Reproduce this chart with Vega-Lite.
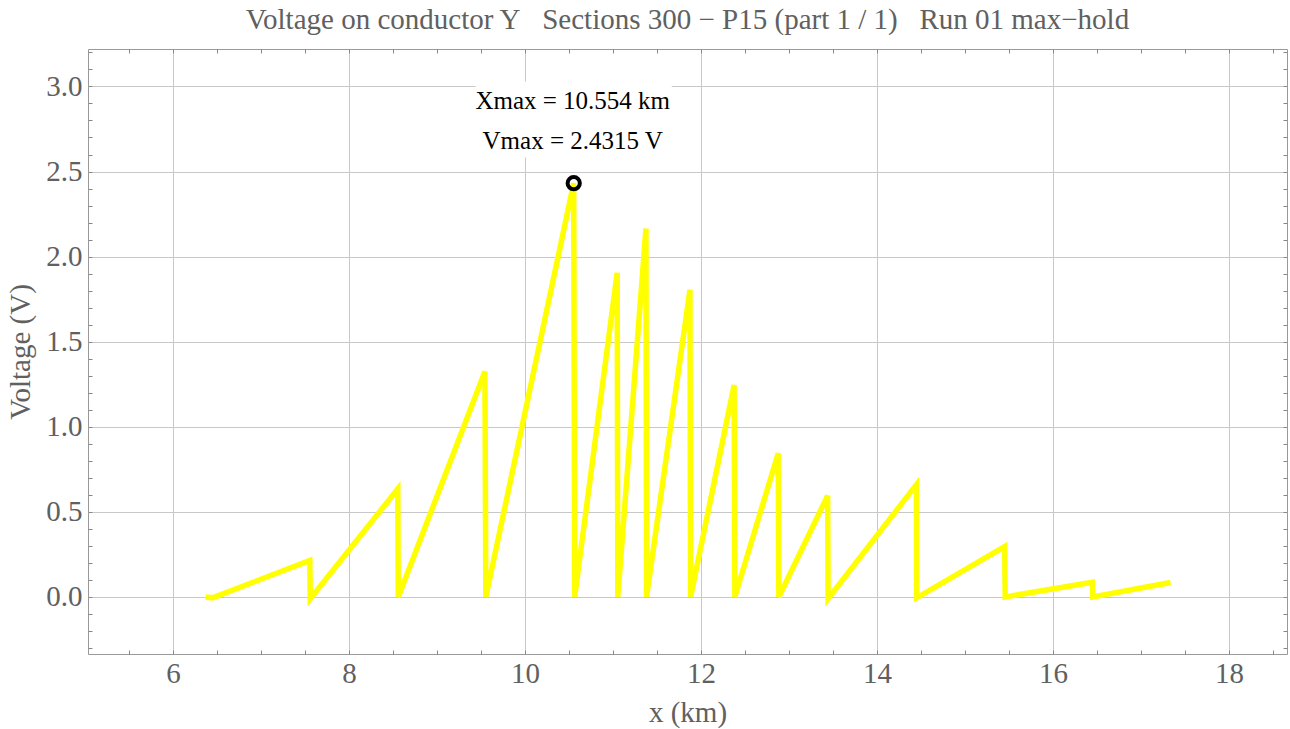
{
  "$schema": "https://vega.github.io/schema/vega-lite/v6.json",
  "width": 1199,
  "height": 605,
  "autosize": "none",
  "padding": {"left": 88, "top": 49, "right": 3, "bottom": 75},
  "background": "white",
  "title": {
    "text": "Voltage on conductor Y\u00a0\u00a0\u00a0Sections 300 − P15 (part 1 / 1)\u00a0\u00a0\u00a0Run 01 max−hold",
    "font": "Liberation Serif",
    "fontSize": 29,
    "fontWeight": "normal",
    "color": "#606060",
    "anchor": "middle",
    "offset": 3
  },
  "config": {
    "view": {"stroke": "#999999", "strokeWidth": 1},
    "axis": {
      "labelFont": "Liberation Serif",
      "labelFontSize": 29,
      "labelColor": "#606060",
      "titleFont": "Liberation Serif",
      "titleFontSize": 29,
      "titleFontWeight": "normal",
      "titleColor": "#606060",
      "tickColor": "#888888",
      "tickWidth": 1,
      "gridColor": "#c8c8c8",
      "gridWidth": 1,
      "domain": false
    }
  },
  "datasets": {
    "curve": [
      {"i": 0, "x": 6.37, "v": 0.0},
      {"i": 1, "x": 6.45, "v": -0.005},
      {"i": 2, "x": 7.555, "v": 0.215},
      {"i": 3, "x": 7.56, "v": -0.01},
      {"i": 4, "x": 8.555, "v": 0.635},
      {"i": 5, "x": 8.56, "v": 0.0},
      {"i": 6, "x": 9.545, "v": 1.325},
      {"i": 7, "x": 9.555, "v": 0.0},
      {"i": 8, "x": 10.554, "v": 2.4315},
      {"i": 9, "x": 10.565, "v": 0.0},
      {"i": 10, "x": 11.048, "v": 1.905},
      {"i": 11, "x": 11.055, "v": 0.0},
      {"i": 12, "x": 11.375, "v": 2.165},
      {"i": 13, "x": 11.382, "v": 0.0},
      {"i": 14, "x": 11.875, "v": 1.805},
      {"i": 15, "x": 11.882, "v": 0.0},
      {"i": 16, "x": 12.377, "v": 1.245},
      {"i": 17, "x": 12.385, "v": 0.0},
      {"i": 18, "x": 12.878, "v": 0.845},
      {"i": 19, "x": 12.885, "v": 0.0},
      {"i": 20, "x": 13.44, "v": 0.595},
      {"i": 21, "x": 13.445, "v": -0.01},
      {"i": 22, "x": 14.448, "v": 0.66},
      {"i": 23, "x": 14.452, "v": -0.005},
      {"i": 24, "x": 15.452, "v": 0.296},
      {"i": 25, "x": 15.457, "v": 0.0},
      {"i": 26, "x": 16.448, "v": 0.087},
      {"i": 27, "x": 16.453, "v": 0.0},
      {"i": 28, "x": 17.337, "v": 0.085}
    ],
    "peak": [
      {"x": 10.554, "v": 2.4315, "l1": "Xmax = 10.554 km", "l2": "Vmax = 2.4315 V"}
    ]
  },
  "layer": [
    {
      "data": {"name": "curve"},
      "mark": {"type": "line", "color": "#ffff00", "strokeWidth": 5.5, "strokeCap": "butt", "strokeJoin": "miter"},
      "encoding": {
        "x": {
          "field": "x", "type": "quantitative",
          "scale": {"domain": [5.034, 18.66], "nice": false, "zero": false},
          "axis": {
            "orient": "bottom",
            "title": "x (km)",
            "values": [5.5, 6, 6.5, 7, 7.5, 8, 8.5, 9, 9.5, 10, 10.5, 11, 11.5, 12, 12.5, 13, 13.5, 14, 14.5, 15, 15.5, 16, 16.5, 17, 17.5, 18, 18.5],
            "labelExpr": "abs(datum.value - 2*round(datum.value/2)) < 0.001 ? format(datum.value, 'd') : ''",
            "labelOverlap": false,
            "labelFlush": false,
            "tickSize": -4,
            "labelPadding": 9,
            "titlePadding": 10,
            "grid": true,
            "gridOpacity": {"condition": {"test": "abs(datum.value - 2*round(datum.value/2)) < 0.001", "value": 1}, "value": 0}
          }
        },
        "y": {
          "field": "v", "type": "quantitative",
          "scale": {"domain": [-0.335, 3.22], "nice": false, "zero": false},
          "axis": {
            "orient": "left",
            "title": "Voltage (V)",
            "values": [-0.3, -0.2, -0.1, 0, 0.1, 0.2, 0.3, 0.4, 0.5, 0.6, 0.7, 0.8, 0.9, 1, 1.1, 1.2, 1.3, 1.4, 1.5, 1.6, 1.7, 1.8, 1.9, 2, 2.1, 2.2, 2.3, 2.4, 2.5, 2.6, 2.7, 2.8, 2.9, 3, 3.1, 3.2],
            "labelExpr": "abs(datum.value*2 - round(datum.value*2)) < 0.001 ? format(datum.value, '.1f') : ''",
            "labelOverlap": false,
            "labelFlush": false,
            "tickSize": -4,
            "labelPadding": 10,
            "titlePadding": 10,
            "grid": true,
            "gridOpacity": {"condition": {"test": "abs(datum.value*2 - round(datum.value*2)) < 0.001", "value": 1}, "value": 0}
          }
        },
        "order": {"field": "i", "type": "quantitative"}
      }
    },
    {
      "data": {"name": "peak"},
      "mark": {"type": "point", "shape": "M-1,-1.037L1,-1.037L1,-0.261L-1,-0.261Z", "filled": true, "fill": "white", "strokeWidth": 0, "size": 38416, "opacity": 1},
      "encoding": {
        "x": {
          "field": "x", "type": "quantitative",
          "scale": {"domain": [5.034, 18.66], "nice": false, "zero": false},
          "axis": {
            "orient": "top",
            "title": null,
            "labels": false,
            "values": [5.5, 6, 6.5, 7, 7.5, 8, 8.5, 9, 9.5, 10, 10.5, 11, 11.5, 12, 12.5, 13, 13.5, 14, 14.5, 15, 15.5, 16, 16.5, 17, 17.5, 18, 18.5],
            "tickSize": -4,
            "grid": false
          }
        },
        "y": {
          "field": "v", "type": "quantitative",
          "scale": {"domain": [-0.335, 3.22], "nice": false, "zero": false},
          "axis": {
            "orient": "right",
            "title": null,
            "labels": false,
            "values": [-0.3, -0.2, -0.1, 0, 0.1, 0.2, 0.3, 0.4, 0.5, 0.6, 0.7, 0.8, 0.9, 1, 1.1, 1.2, 1.3, 1.4, 1.5, 1.6, 1.7, 1.8, 1.9, 2, 2.1, 2.2, 2.3, 2.4, 2.5, 2.6, 2.7, 2.8, 2.9, 3, 3.1, 3.2],
            "tickSize": -4,
            "grid": false
          }
        }
      }
    },
    {
      "data": {"name": "peak"},
      "mark": {"type": "point", "shape": "circle", "filled": false, "stroke": "black", "strokeWidth": 4, "size": 150, "opacity": 1},
      "encoding": {
        "x": {"field": "x", "type": "quantitative", "axis": null},
        "y": {"field": "v", "type": "quantitative", "axis": null}
      }
    },
    {
      "data": {"name": "peak"},
      "mark": {"type": "text", "font": "Liberation Serif", "fontSize": 25, "color": "black", "align": "center", "baseline": "middle", "dx": -1, "dy": -82},
      "encoding": {
        "x": {"field": "x", "type": "quantitative", "axis": null},
        "y": {"field": "v", "type": "quantitative", "axis": null},
        "text": {"field": "l1"}
      }
    },
    {
      "data": {"name": "peak"},
      "mark": {"type": "text", "font": "Liberation Serif", "fontSize": 25, "color": "black", "align": "center", "baseline": "middle", "dx": -1, "dy": -42},
      "encoding": {
        "x": {"field": "x", "type": "quantitative", "axis": null},
        "y": {"field": "v", "type": "quantitative", "axis": null},
        "text": {"field": "l2"}
      }
    }
  ],
  "resolve": {
    "scale": {"x": "shared", "y": "shared"},
    "axis": {"x": "independent", "y": "independent"}
  }
}
